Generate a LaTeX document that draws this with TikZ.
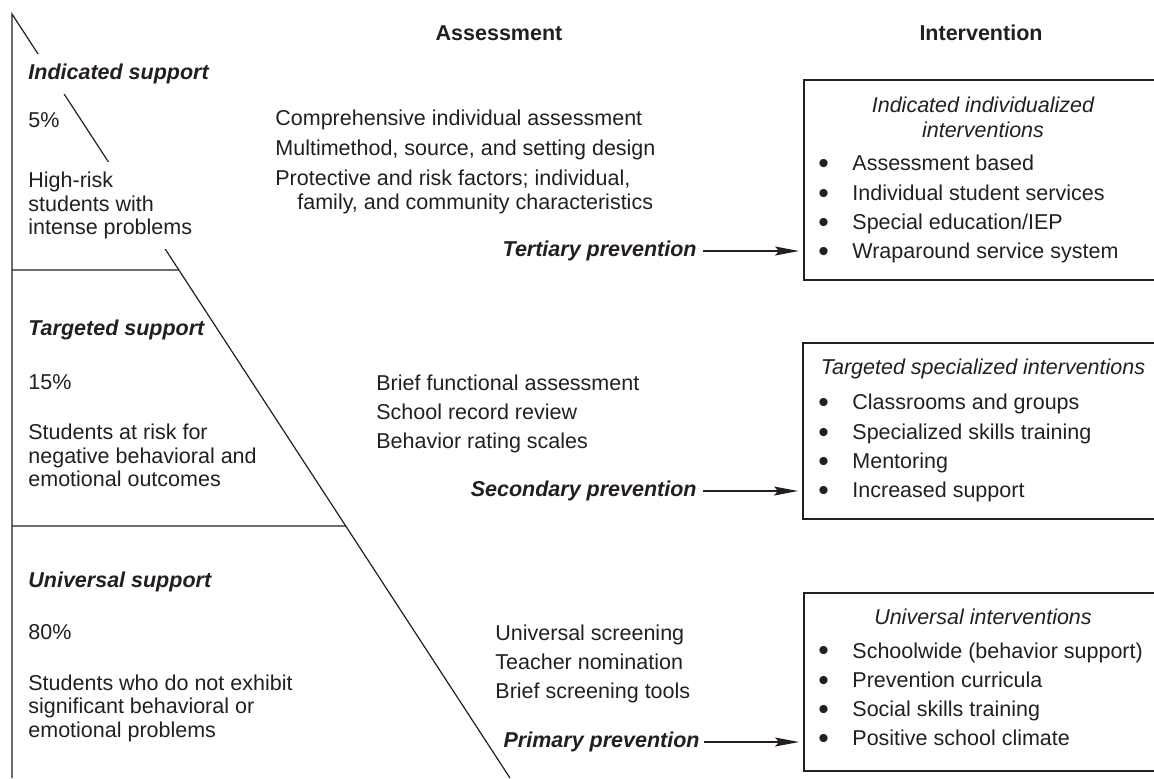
\documentclass[tikz,border=0pt]{standalone}
\usepackage{fontspec}
\setmainfont{Liberation Sans}
\usetikzlibrary{arrows.meta,positioning,calc}
\definecolor{ink}{RGB}{35,31,32}
\newcommand{\fs}{\fontsize{10.75}{11.75}\selectfont}
\newcommand{\bul}{\makebox[17pt][l]{\raisebox{-0.25ex}{\scalebox{1.4}{\textbullet}}}}

\begin{document}
\begin{tikzpicture}[x=0.5pt, y=-0.5pt, >={Stealth[length=12pt,width=4.5pt,inset=2pt]},
	every node/.style={text=ink, inner sep=0pt}, font=\fs,
	ln/.style={draw=ink, line width=0.6pt},
	lbl/.style={anchor=north west, align=left},
	lvl/.style={lbl, font=\fs\bfseries\itshape},
	wt/.style={fill=white, inner xsep=2pt, inner ysep=5pt},
	asm/.style={lbl, font=\fontsize{10.75}{12}\selectfont},
	prev/.style={anchor=east, font=\fs\bfseries\itshape},
	frame/.style={draw=ink, line width=0.75pt, anchor=north west, minimum width=180pt},
	ttl/.style={anchor=north, align=center, font=\fontsize{10.75}{12.5}\selectfont\itshape},
	lst/.style={lbl, font=\fontsize{10.75}{14.6}\selectfont},
	arr/.style={->, ln, shorten >=2pt}]
	\useasboundingbox (0,0) rectangle (1154,778);
	\clip (0,0) rectangle (1154,778);

	\coordinate (apex) at (12,14);
	\coordinate (foot) at (510,778);
	\coordinate (bot) at (12,778);
	\coordinate (l1) at (12,270);
	\coordinate (l2) at (12,526);
	\coordinate (r1) at ($(apex)!0.335!(foot)$);
	\coordinate (r2) at ($(apex)!0.6702!(foot)$);
	\draw[ln] (bot) -- (apex) -- (foot);
	\draw[ln] (l1) -- (r1);
	\draw[ln] (l2) -- (r2);

	\node[font=\fs\bfseries] (ah) at (499,33) {Assessment};
	\node[font=\fs\bfseries] (ih) at (981,33) {Intervention};

	\node[lvl, wt] (ind) at (24,54) {Indicated support};
	\node[lbl] (p5) at (28,112) {5\%};
	\node[lbl, wt] (hr) at (24,162) {High-risk\\students with\\intense problems};
	\node[lvl] (tgt) at (28,320) {Targeted support};
	\node[lbl] (p15) at (28,374) {15\%};
	\node[lbl] (ar) at (28,424) {Students at risk for\\negative behavioral and\\emotional outcomes};
	\node[lvl] (uni) at (28,572) {Universal support};
	\node[lbl] (p80) at (28,624) {80\%};
	\node[lbl] (no) at (28,674) {Students who do not exhibit\\significant behavioral or\\emotional problems};

	\node[asm] (a1) at (275,110) {Comprehensive individual assessment\\[3pt]Multimethod, source, and setting design\\[3pt]Protective and risk factors; individual,\\\hspace*{11pt}family, and community characteristics};
	\node[asm] (a2) at (376,375) {Brief functional assessment\\[2.5pt]School record review\\[2.5pt]Behavior rating scales};
	\node[asm] (a3) at (495,625) {Universal screening\\[2.5pt]Teacher nomination\\[2.5pt]Brief screening tools};

	\node[frame, minimum height=100pt] (ibox) at (803,79) {};
	\node[frame, minimum height=88pt] (tbox) at (802,342) {};
	\node[frame, minimum height=89pt] (ubox) at (803,592) {};

	\node[ttl] (it) at (983,97) {Indicated individualized\\interventions};
	\node[lst] (il) at (818,155) {\bul Assessment based\\\bul Individual student services\\\bul Special education/IEP\\\bul Wraparound service system};
	\node[ttl] (tt) at (983,359) {Targeted specialized interventions};
	\node[lst] (tl) at (818,394) {\bul Classrooms and groups\\\bul Specialized skills training\\\bul Mentoring\\\bul Increased support};
	\node[ttl] (ut) at (983,609) {Universal interventions};
	\node[lst] (ul) at (818,642) {\bul Schoolwide (behavior support)\\\bul Prevention curricula\\\bul Social skills training\\\bul Positive school climate};

	\node[prev] (ter) at (697,251) {Tertiary prevention};
	\node[prev] (sec) at (697,491) {Secondary prevention};
	\node[prev] (pri) at (700,742) {Primary prevention};
	\draw[arr] ([xshift=3pt]ter.east) -- (ter.east -| ibox.west);
	\draw[arr] ([xshift=3pt]sec.east) -- (sec.east -| tbox.west);
	\draw[arr] ([xshift=2pt]pri.east) -- (pri.east -| ubox.west);
\end{tikzpicture}
\end{document}
